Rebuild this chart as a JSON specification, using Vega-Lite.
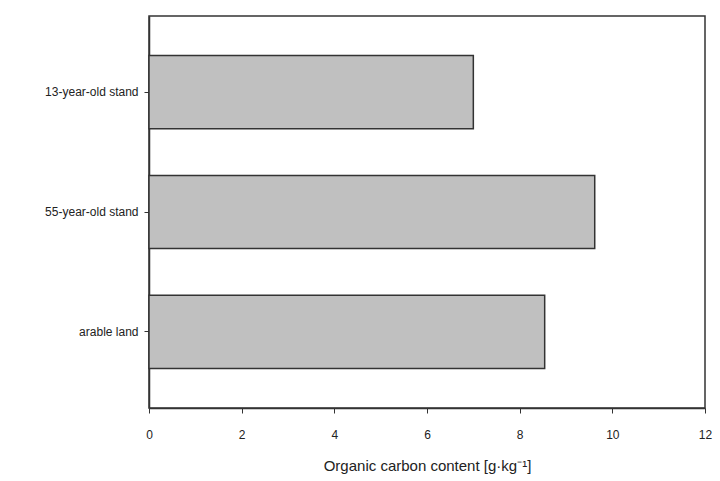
{
  "$schema": "https://vega.github.io/schema/vega-lite/v6.json",
  "width": 556,
  "height": 392,
  "autosize": {"type": "none"},
  "padding": {"left": 149, "top": 16, "right": 15, "bottom": 73},
  "background": "white",
  "config": {
    "font": "Liberation Sans",
    "view": {"stroke": "#333333", "strokeWidth": 1.5}
  },
  "data": {
    "values": [
      {"site": "13-year-old stand", "carbon": 7.0},
      {"site": "55-year-old stand", "carbon": 9.62},
      {"site": "arable land", "carbon": 8.54}
    ]
  },
  "mark": {"type": "bar", "fill": "#c0c0c0", "stroke": "#333333", "strokeWidth": 1.5},
  "encoding": {
    "y": {
      "field": "site",
      "type": "nominal",
      "sort": ["13-year-old stand", "55-year-old stand", "arable land"],
      "scale": {"paddingInner": 0.39, "paddingOuter": 0.33},
      "axis": {
        "title": null,
        "domainColor": "#333333",
        "domainWidth": 1.5,
        "tickColor": "#333333",
        "tickSize": 5,
        "labelPadding": 6,
        "labelFontSize": 12,
        "labelColor": "#222222"
      }
    },
    "x": {
      "field": "carbon",
      "type": "quantitative",
      "scale": {"domain": [0, 12], "nice": false},
      "axis": {
        "title": "Organic carbon content [g·kg⁻¹]",
        "values": [0, 2, 4, 6, 8, 10, 12],
        "grid": false,
        "labelFlush": false,
        "domainColor": "#333333",
        "domainWidth": 1.5,
        "tickColor": "#333333",
        "tickSize": 5,
        "labelPadding": 16,
        "labelFontSize": 12,
        "labelColor": "#222222",
        "titleFontSize": 15,
        "titleFontWeight": "normal",
        "titleColor": "#222222",
        "titlePadding": 18
      }
    }
  }
}
